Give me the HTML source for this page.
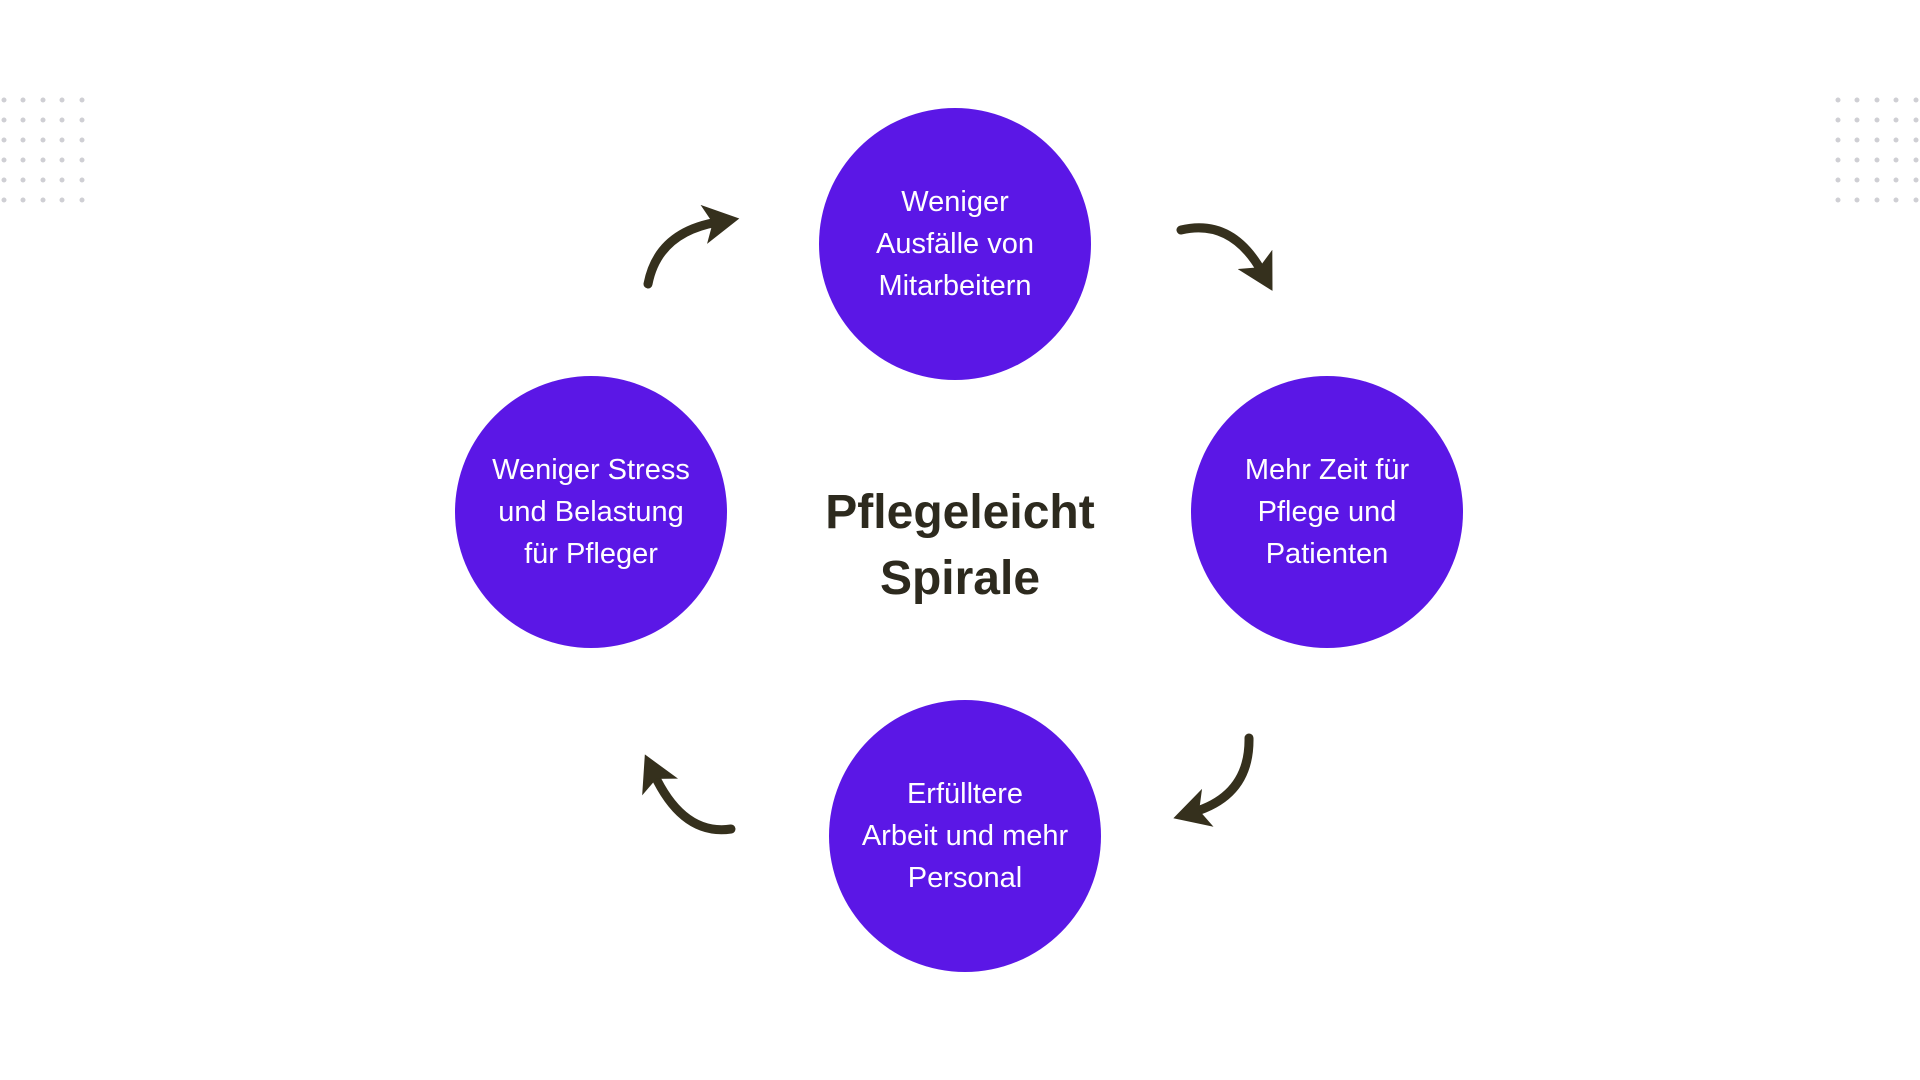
<!DOCTYPE html>
<html><head><meta charset="utf-8"><style>
html,body{margin:0;padding:0;background:#fff;}
body{width:1920px;height:1080px;position:relative;overflow:hidden;font-family:"Liberation Sans",sans-serif;}
.c{position:absolute;width:272px;height:272px;border-radius:50%;background:#5b17e6;color:#fff;display:flex;align-items:center;justify-content:center;text-align:center;font-size:29px;line-height:42px;}
.t{position:absolute;left:760px;top:480px;width:400px;text-align:center;font-weight:bold;font-size:48px;line-height:66px;color:#2d2a1e;}
</style></head><body>
<svg width="1920" height="1080" style="position:absolute;left:0;top:0">
<defs>
<marker id="h" markerWidth="4" markerHeight="4.4" refX="1.6" refY="2.2" orient="auto" markerUnits="strokeWidth"><path d="M0,0 L4,2.2 L0,4.4 L1,2.2z" fill="#35301d"/></marker>
</defs>
<g fill="#cfcfd4">
<g id="dots">
<circle cx="4" cy="100" r="2.5"/><circle cx="23" cy="100" r="2.5"/><circle cx="43" cy="100" r="2.5"/><circle cx="62" cy="100" r="2.5"/><circle cx="82" cy="100" r="2.5"/>
</g>
<use href="#dots" y="20"/><use href="#dots" y="40"/><use href="#dots" y="60"/><use href="#dots" y="80"/><use href="#dots" y="100"/>
<use href="#dots" x="1834"/><use href="#dots" x="1834" y="20"/><use href="#dots" x="1834" y="40"/><use href="#dots" x="1834" y="60"/><use href="#dots" x="1834" y="80"/><use href="#dots" x="1834" y="100"/>
</g>
<g fill="none" stroke="#35301d" stroke-width="9" stroke-linecap="round" marker-end="url(#h)">
<path d="M648,284 Q658,232 718,222"/>
<path d="M1181,230 Q1232,218 1262,272"/>
<path d="M1249,738 Q1250,795 1194,812"/>
<path d="M731,829 Q683,836 654,774"/>
</g>
</svg>
<div class="c" style="left:819px;top:108px">Weniger<br>Ausfälle von<br>Mitarbeitern</div>
<div class="c" style="left:1191px;top:376px">Mehr Zeit für<br>Pflege und<br>Patienten</div>
<div class="c" style="left:829px;top:700px">Erfülltere<br>Arbeit und mehr<br>Personal</div>
<div class="c" style="left:455px;top:376px">Weniger Stress<br>und Belastung<br>für Pfleger</div>
<div class="t">Pflegeleicht<br>Spirale</div>
</body></html>
